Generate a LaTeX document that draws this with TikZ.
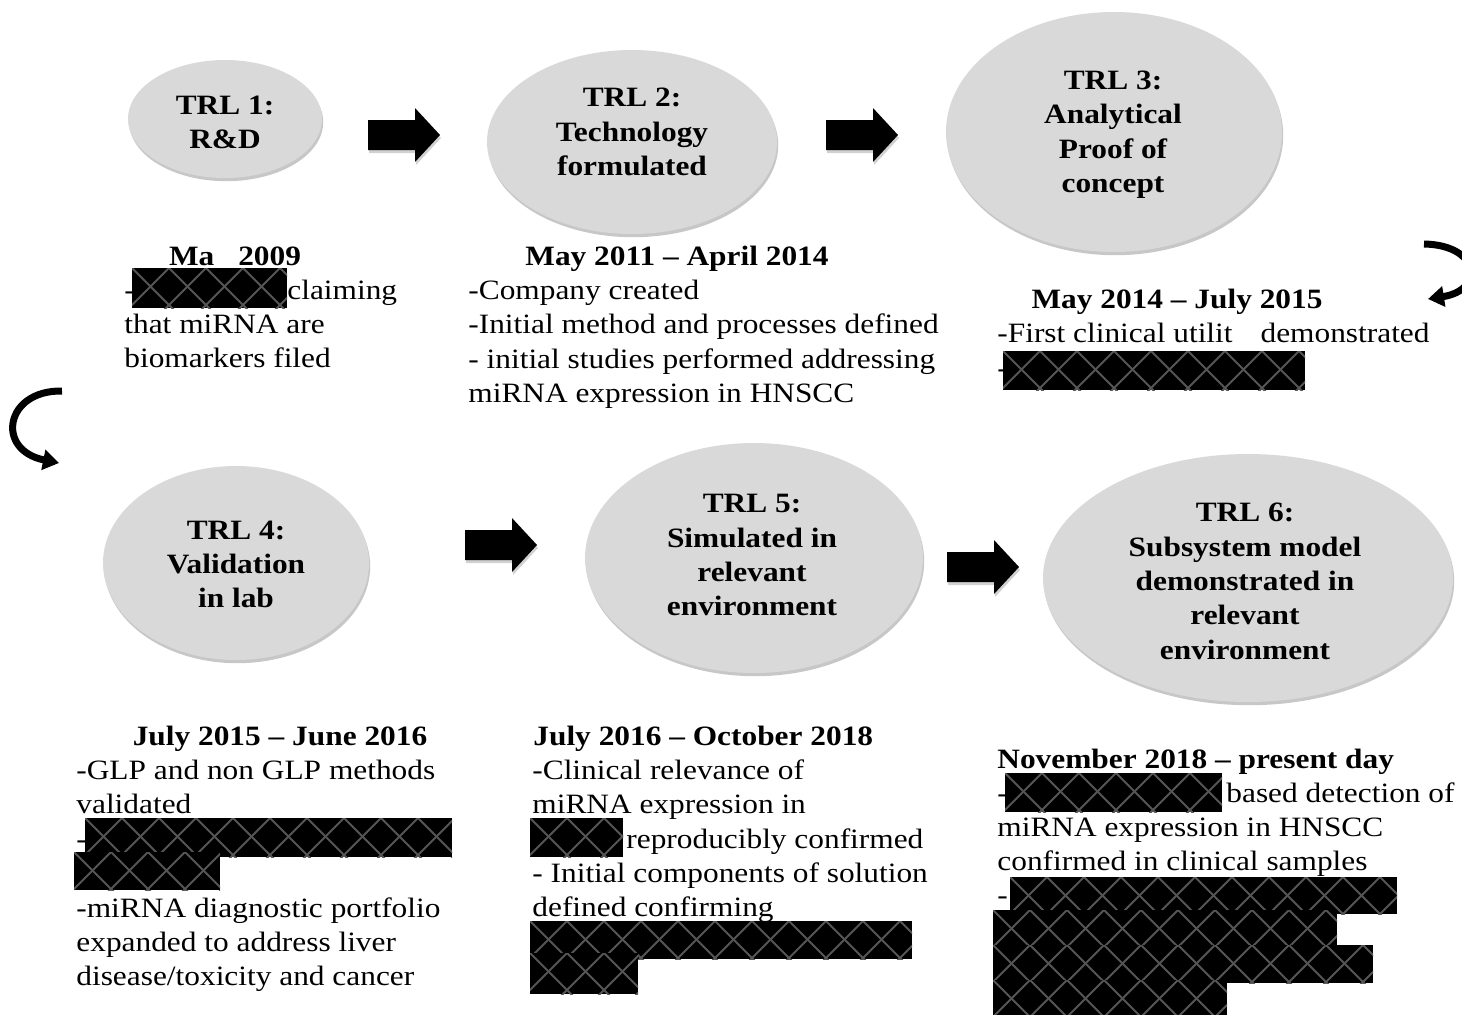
\documentclass[tikz,border=0pt]{standalone}
\usepackage{fontspec}
\setmainfont{Liberation Serif}[FakeStretch=1.12]
\usetikzlibrary{shapes.geometric,shadows,arrows.meta}
\definecolor{ellfill}{HTML}{D9D9D9}
\definecolor{hatchc}{HTML}{555555}
\newcommand\setfs{\fontsize{14pt}{17pt}\selectfont}
\tikzset{
  stage/.style={ellipse, fill=ellfill, inner sep=0pt, outer sep=0pt,
    drop shadow={shadow xshift=0.6pt, shadow yshift=-1.6pt, fill=black, opacity=0.22}},
  tb/.style={anchor=base, inner sep=0pt, font=\setfs\bfseries},
  tt/.style={anchor=base, inner sep=0pt, font=\setfs\bfseries},
  tl/.style={anchor=base west, inner sep=0pt, font=\setfs},
  hatch/.style={draw=hatchc, line width=1pt},
  curv/.style={line width=3.5pt, -{Triangle[width=10pt,length=8pt]}},
}
\newcommand\redact[4]{%
  \fill[black] (#1,#2) rectangle (#3,#4);
  \begin{scope}
    \clip (#1,#2) rectangle (#3,#4);
    \foreach \k in {0,...,12}{
      \draw[hatch] ({#1+\k*37},#2) -- ++(45,45);
      \draw[hatch] ({#1+\k*37},#2) -- ++(-45,45);
    }
  \end{scope}}
\newcommand\blockarrow[2]{%
  \begin{scope}[shift={(#1,#2)}]
    \fill[black, opacity=0.18] (1,18) -- (48,18) -- (48,30) -- (73,3) -- (48,-24) -- (48,-12) -- (1,-12) -- cycle;
    \fill[black] (0,15) -- (47,15) -- (47,27) -- (72,0) -- (47,-27) -- (47,-15) -- (0,-15) -- cycle;
  \end{scope}}
\begin{document}
\begin{tikzpicture}[x=0.5pt, y=-0.5pt]
\path[use as bounding box] (0,0) rectangle (1462,1014);
\clip (0,0) rectangle (1462,1014);
\fill[white] (0,0) rectangle (1462,1014);

% ---- stages (ellipses)
\node[stage, minimum width=97pt,  minimum height=59pt]  (e1) at (225,119) {};
\node[stage, minimum width=145pt, minimum height=92pt]  (e2) at (632,142) {};
\node[stage, minimum width=168pt, minimum height=120pt] (e3) at (1114,132) {};
\node[stage, minimum width=133pt, minimum height=97pt]  (e4) at (236,563) {};
\node[stage, minimum width=169pt, minimum height=115pt] (e5) at (754,558) {};
\node[stage, minimum width=205pt, minimum height=124pt] (e6) at (1248,578) {};

% ---- stage texts
\node[tb] (s1a) at (225,114) {TRL 1:};
\node[tb] (s1b) at (225,148) {R\&D};
\node[tb] (s2a) at (632,106) {TRL 2:};
\node[tb] (s2b) at (632,141) {Technology};
\node[tb] (s2c) at (632,175) {formulated};
\node[tb] (s3a) at (1113,89) {TRL 3:};
\node[tb] (s3b) at (1113,123) {Analytical};
\node[tb] (s3c) at (1113,158) {Proof of};
\node[tb] (s3d) at (1113,192) {concept};
\node[tb] (s4a) at (236,539) {TRL 4:};
\node[tb] (s4b) at (236,573) {Validation};
\node[tb] (s4c) at (236,607) {in lab};
\node[tb] (s5a) at (752,512) {TRL 5:};
\node[tb] (s5b) at (752,547) {Simulated in};
\node[tb] (s5c) at (752,581) {relevant};
\node[tb] (s5d) at (752,615) {environment};
\node[tb] (s6a) at (1245,521) {TRL 6:};
\node[tb] (s6b) at (1245,556) {Subsystem model};
\node[tb] (s6c) at (1245,590) {demonstrated in};
\node[tb] (s6d) at (1245,624) {relevant};
\node[tb] (s6e) at (1245,659) {environment};

% ---- block arrows
\blockarrow{368}{135}
\blockarrow{826}{135}
\blockarrow{465}{545}
\blockarrow{947}{567}

% ---- curved arrows
\draw[curv] (1424,244) .. controls (1480,245) and (1485,290) .. (1428,299);
\draw[curv] (62,391) .. controls (5,390) and (-5,450) .. (59,463);

% ---- block 1
\node[tt] (d1) at (235,265) {Ma\hspace{12pt}2009};
\node[tl] (b1a) at (124,299) {-};
\redact{132}{268}{287}{308}
\node[tl] (b1b) at (287,299) {claiming};
\node[tl] (b1c) at (124,333) {that miRNA are};
\node[tl] (b1d) at (124,367) {biomarkers filed};

% ---- block 2
\node[tt] (d2) at (677,265) {May 2011 – April 2014};
\node[tl] (b2a) at (468,299) {-Company created};
\node[tl] (b2b) at (468,333) {-Initial method and processes defined};
\node[tl] (b2c) at (468,368) {- initial studies performed addressing};
\node[tl] (b2d) at (468,402) {miRNA expression in HNSCC};

% ---- block 3
\node[tt] (d3) at (1177,308) {May 2014 – July 2015};
\node[tl] (b3a) at (997,342) {-First clinical utilit\hspace{14pt}demonstrated};
\node[tl] (b3b) at (997,377) {-};
\redact{1003}{351}{1305}{390}

% ---- block 4
\node[tt] (d4) at (280,745) {July 2015 – June 2016};
\node[tl] (b4a) at (76,779) {-GLP and non GLP methods};
\node[tl] (b4b) at (76,813) {validated};
\node[tl] (b4c) at (76,848) {-};
\redact{85}{818}{452}{857}
\redact{74}{852}{220}{890}
\node[tl] (b4d) at (76,917) {-miRNA diagnostic portfolio};
\node[tl] (b4e) at (76,951) {expanded to address liver};
\node[tl] (b4f) at (76,985) {disease/toxicity and cancer};

% ---- block 5
\node[tl, font=\setfs\bfseries] (d5) at (533,745) {July 2016 – October 2018};
\node[tl] (b5a) at (532,779) {-Clinical relevance of};
\node[tl] (b5b) at (532,813) {miRNA expression in};
\redact{530}{818}{623}{857}
\node[tl] (b5c) at (626,848) {reproducibly confirmed};
\node[tl] (b5d) at (532,882) {- Initial components of solution};
\node[tl] (b5e) at (532,916) {defined confirming};
\redact{530}{921}{912}{959}
\redact{530}{953}{638}{994}

% ---- block 6
\node[tl, font=\setfs\bfseries] (d6) at (997,768) {November 2018 – present day};
\node[tl] (b6a) at (997,802) {-};
\redact{1005}{773}{1222}{812}
\node[tl] (b6b) at (1226,802) {based detection of};
\node[tl] (b6c) at (997,836) {miRNA expression in HNSCC};
\node[tl] (b6d) at (997,870) {confirmed in clinical samples};
\node[tl] (b6e) at (997,904) {-};
\redact{1010}{877}{1397}{914}
\redact{993}{910}{1337}{945}
\redact{993}{945}{1373}{983}
\redact{993}{980}{1227}{1016}
\end{tikzpicture}
\end{document}
